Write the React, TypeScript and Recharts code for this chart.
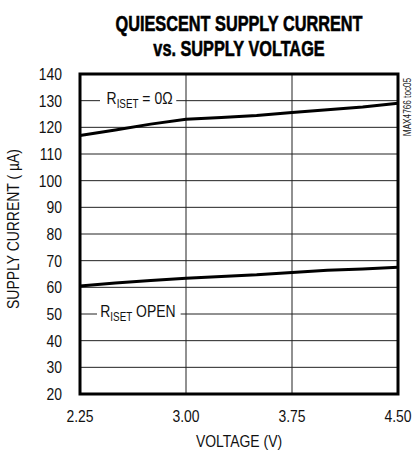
import {
  LineChart,
  Line,
  XAxis,
  YAxis,
  CartesianGrid,
  ReferenceArea,
} from "recharts";

const voltage = [2.25, 2.5, 2.75, 3.0, 3.25, 3.5, 3.75, 4.0, 4.25, 4.5];
const currentRiset0 = [116.9, 119.0, 121.2, 123.0, 123.7, 124.4, 125.6, 126.6, 127.6, 129.0];
const currentRisetOpen = [60.5, 61.6, 62.6, 63.4, 64.1, 64.7, 65.6, 66.4, 66.9, 67.5];
const xTicks = [2.25, 3.0, 3.75, 4.5];
const yTicks = [20, 30, 40, 50, 60, 70, 80, 90, 100, 110, 120, 130, 140];

// Liberation Sans squeezed to 82% ~ Arial Narrow / Helvetica Condensed
const FONT = "'Liberation Sans', Arial, sans-serif";
const SQUEEZE = 0.82;

const data = voltage.map((v, i) => ({
  v,
  r0: currentRiset0[i],
  open: currentRisetOpen[i],
}));

function NarrowTick(props: any) {
  const { x, y, payload, textAnchor, dy, fmt } = props;
  const label = fmt ? fmt(payload.value) : String(payload.value);
  return (
    <g transform={`translate(${x},${y})`}>
      <text
        transform={`scale(${SQUEEZE},1)`}
        textAnchor={textAnchor}
        dy={dy}
        fontFamily={FONT}
        fontSize={17}
        fill="#111"
      >
        {label}
      </text>
    </g>
  );
}

function SeriesLabel({ x, y, text, pad }: { x: number; y: number; text: string; pad: [number, number] }) {
  return (
    <div
      style={{
        position: "absolute",
        left: x,
        top: y,
        background: "#fff",
        padding: `0 ${pad[1]}px 0 ${pad[0]}px`,
        fontFamily: FONT,
        fontSize: 17,
        lineHeight: "18px",
        color: "#111",
        whiteSpace: "nowrap",
        transform: `scaleX(${SQUEEZE})`,
        transformOrigin: "left center",
      }}
    >
      R<span style={{ fontSize: 12, position: "relative", top: 4 }}>ISET</span>
      {text}
    </div>
  );
}

export default function App() {
  return (
    <div style={{ position: "absolute", left: 0, top: 0, width: 416, height: 450, background: "#fff" }}>
      <div
        style={{
          position: "absolute",
          left: 239,
          top: 11,
          transform: "translateX(-50%) scaleX(0.74)",
          textAlign: "center",
          fontFamily: FONT,
          fontWeight: 700,
          fontSize: 22,
          lineHeight: "25px",
          color: "#000",
          whiteSpace: "nowrap",
          WebkitTextStroke: "0.6px #000",
        }}
      >
        QUIESCENT SUPPLY CURRENT
        <br />
        vs. SUPPLY VOLTAGE
      </div>
      <LineChart
        width={416}
        height={450}
        data={data}
        margin={{ top: 74, right: 18, bottom: 26, left: 0 }}
      >
        <CartesianGrid stroke="#222" strokeWidth={1} />
        <XAxis
          dataKey="v"
          type="number"
          domain={[2.25, 4.5]}
          ticks={xTicks}
          tick={<NarrowTick dy={12} fmt={(t: number) => t.toFixed(2)} />}
          tickSize={0}
          tickMargin={16}
          axisLine={false}
          height={30}
        />
        <YAxis
          type="number"
          domain={[20, 140]}
          ticks={yTicks}
          tick={<NarrowTick dy={6} />}
          tickSize={0}
          tickMargin={18}
          axisLine={false}
          width={80}
        />
        <Line
          dataKey="r0"
          stroke="#000"
          strokeWidth={3}
          dot={false}
          isAnimationActive={false}
        />
        <Line
          dataKey="open"
          stroke="#000"
          strokeWidth={3}
          dot={false}
          isAnimationActive={false}
        />
        <ReferenceArea
          x1={2.25}
          x2={4.5}
          y1={20}
          y2={140}
          fill="none"
          stroke="#000"
          strokeWidth={3}
          ifOverflow="visible"
        />
      </LineChart>
      <SeriesLabel x={100} y={90} text=" = 0Ω" pad={[8, 4]} />
      <SeriesLabel x={97} y={303} text=" OPEN" pad={[4, 6]} />
      <div
        style={{
          position: "absolute",
          left: 239,
          top: 432,
          transform: `translateX(-50%) scaleX(${SQUEEZE})`,
          fontFamily: FONT,
          fontSize: 17,
          lineHeight: "20px",
          color: "#111",
          whiteSpace: "nowrap",
        }}
      >
        VOLTAGE (V)
      </div>
      <div
        style={{
          position: "absolute",
          left: 14,
          top: 229,
          transform: `translate(-50%, -50%) rotate(-90deg) scaleX(${SQUEEZE})`,
          fontFamily: FONT,
          fontSize: 17,
          lineHeight: "20px",
          color: "#111",
          whiteSpace: "nowrap",
        }}
      >
        SUPPLY CURRENT ( µA)
      </div>
      <div
        style={{
          position: "absolute",
          left: 408,
          top: 107,
          transform: `translate(-50%, -50%) rotate(-90deg) scaleX(${SQUEEZE})`,
          fontFamily: FONT,
          fontSize: 10,
          lineHeight: "12px",
          color: "#222",
          whiteSpace: "nowrap",
        }}
      >
        MAX4766 toc05
      </div>
    </div>
  );
}
